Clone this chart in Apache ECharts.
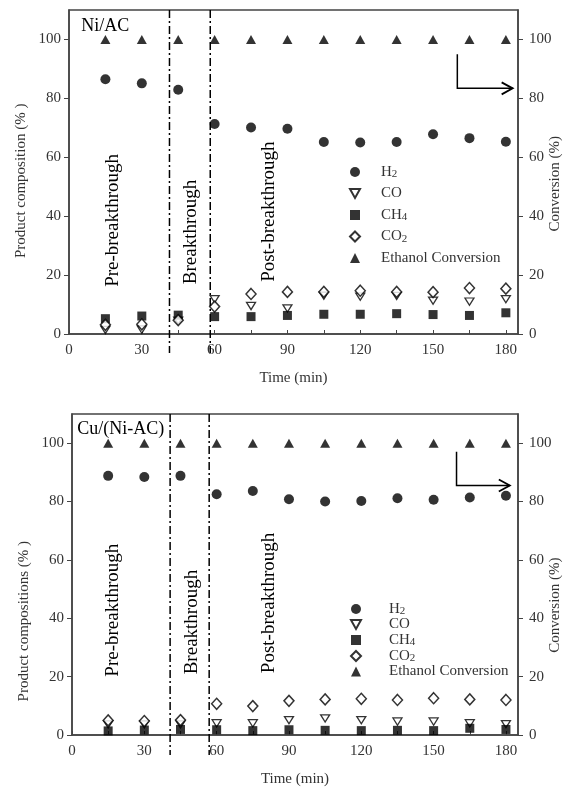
<!DOCTYPE html>
<html>
<head>
<meta charset="utf-8">
<script src="https://cdn.jsdelivr.net/npm/echarts@6/dist/echarts.min.js"></script>
<style>
html, body { margin: 0; padding: 0; background: #fff; }
#chart { width: 573px; height: 790px; }
</style>
</head>
<body>
<div id="chart"></div>
<script>
// sampling times (min)
var times = [15, 30, 45, 60, 75, 90, 105, 120, 135, 150, 165, 180];
var seriesNames = ['H₂', 'CO', 'CH₄', 'CO₂', 'Ethanol Conversion'];

// Ni/AC (%)
var niH2   = [86.5, 85.1, 82.9, 71.3, 70.1, 69.7, 65.2, 65.0, 65.2, 67.8, 66.5, 65.3];
var niCO   = [1.4, 1.5, 4.5, 11.8, 9.5, 8.7, 13.0, 12.7, 12.9, 11.3, 11.0, 11.8];
var niCH4  = [5.2, 6.1, 6.4, 5.9, 5.9, 6.3, 6.7, 6.7, 6.9, 6.6, 6.3, 7.2];
var niCO2  = [3.1, 3.3, 4.7, 9.3, 13.6, 14.3, 14.3, 14.7, 14.3, 14.2, 15.6, 15.4];
var niConv = [100, 100, 100, 100, 100, 100, 100, 100, 100, 100, 100, 100];

// Cu/(Ni-AC) (%)
var cuH2   = [88.8, 88.4, 88.8, 82.5, 83.6, 80.8, 80.0, 80.2, 81.1, 80.6, 81.4, 82.0];
var cuCO   = [3.6, 3.6, 3.6, 4.0, 4.0, 5.1, 5.7, 5.1, 4.6, 4.6, 4.0, 3.7];
var cuCH4  = [1.4, 1.7, 1.9, 1.8, 1.5, 1.8, 1.6, 1.5, 1.6, 1.5, 2.3, 1.9];
var cuCO2  = [5.0, 4.8, 5.1, 10.7, 9.9, 11.7, 12.2, 12.4, 12.0, 12.6, 12.2, 12.0];
var cuConv = [100, 100, 100, 100, 100, 100, 100, 100, 100, 100, 100, 100];

// axis ticks
var xLabelTicks = [0, 30, 60, 90, 120, 150, 180];
var xMinorTicks = [0, 15, 30, 45, 60, 75, 90, 105, 120, 135, 150, 165, 180];
var yTicks = [0, 20, 40, 60, 80, 100];

// annotations
var panelTitles = ['Ni/AC', 'Cu/(Ni-AC)'];
var leftAxisNames = ['Product composition (% )', 'Product compositions (% )'];
var rightAxisName = 'Conversion (%)';
var phaseLabels = ['Pre-breakthrough', 'Breakthrough', 'Post-breakthrough'];
var phaseLinesNi = [41.4, 58.2];
var phaseLinesCu = [40.7, 56.9];

var FONT = '"Liberation Serif", "Times New Roman", serif';
var panels = [
  [niH2, niCO, niCH4, niCO2, niConv],
  [cuH2, cuCO, cuCH4, cuCO2, cuConv]
];

var symbolStyles = [
  { symbol: 'circle', symbolSize: 10, itemStyle: { color: '#000' } },
  { symbol: 'path://M0,0L10,0L5,9Z', symbolSize: [9, 8], itemStyle: { color: '#fff', borderColor: '#000', borderWidth: 1.3 } },
  { symbol: 'rect', symbolSize: 9, itemStyle: { color: '#000' } },
  { symbol: 'diamond', symbolSize: [10, 11], itemStyle: { color: '#fff', borderColor: '#000', borderWidth: 1.5 } },
  { symbol: 'triangle', symbolSize: [10, 9], itemStyle: { color: '#000' } }
];

function pairs(ys) {
  return times.map(function (t, i) { return [t, ys[i]]; });
}

// H₂ -> {m|H}{s|2} so the subscript is drawn as a lowered digit
var subDigits = '₀₁₂₃₄₅₆₇₈₉';
function subFormatter(name) {
  var out = '', buf = '';
  for (var i = 0; i < name.length; i++) {
    var d = subDigits.indexOf(name[i]);
    if (d >= 0) {
      if (buf) { out += '{m|' + buf + '}'; buf = ''; }
      out += '{s|' + d + '}';
    } else {
      buf += name[i];
    }
  }
  if (buf) out += '{m|' + buf + '}';
  return out;
}

var series = [];
panels.forEach(function (panel, gi) {
  panel.forEach(function (vals, k) {
    var st = symbolStyles[k];
    series.push({
      type: 'scatter',
      name: seriesNames[k],
      xAxisIndex: gi,
      yAxisIndex: gi * 2 + (k === 4 ? 1 : 0),
      data: pairs(vals),
      symbol: st.symbol,
      symbolSize: st.symbolSize,
      symbolKeepAspect: true,
      itemStyle: st.itemStyle,
      silent: true
    });
  });
});

var labelStyle = { fontFamily: FONT, fontSize: 15, color: '#333' };

function xAxisOf(gi) {
  return {
    type: 'value', gridIndex: gi, min: 0, max: 185,
    name: 'Time (min)', nameLocation: 'middle', nameGap: 37, nameMoveOverlap: false,
    nameTextStyle: { fontFamily: FONT, fontSize: 15, color: '#333' },
    axisLine: { show: true, lineStyle: { color: '#444', width: 1.5 } },
    axisTick: { show: true, inside: true, length: 4, customValues: xMinorTicks, lineStyle: { color: '#444' } },
    axisLabel: Object.assign({ margin: 9, customValues: xLabelTicks }, labelStyle),
    splitLine: { show: false }
  };
}

function yAxisOf(gi, right) {
  return {
    type: 'value', gridIndex: gi, min: 0, max: 110,
    position: right ? 'right' : 'left',
    axisLine: { show: true, lineStyle: { color: '#444', width: 1.5 } },
    axisTick: { show: true, inside: false, length: 5, customValues: yTicks, lineStyle: { color: '#444' } },
    axisLabel: Object.assign({ margin: right ? 11 : 8, customValues: yTicks }, labelStyle),
    splitLine: { show: false }
  };
}

function legendOf(left, top, textGap, lineHeight, gap) {
  return {
    orient: 'vertical', left: left, top: top,
    data: seriesNames, selectedMode: false,
    itemWidth: 10, itemHeight: 10, itemGap: gap, symbolKeepAspect: true,
    formatter: subFormatter,
    textStyle: {
      fontFamily: FONT, fontSize: 15, color: '#333', lineHeight: lineHeight, padding: [0, 0, 0, textGap],
      rich: {
        m: { fontFamily: FONT, fontSize: 15, color: '#333', lineHeight: lineHeight },
        s: { fontFamily: FONT, fontSize: 11, color: '#333', lineHeight: lineHeight - 5, padding: [5, 0, 0, 0] }
      }
    }
  };
}

var chart = echarts.init(document.getElementById('chart'));
chart.setOption({
  animation: false,
  backgroundColor: '#fff',
  grid: [
    { left: 69, top: 10, width: 449, height: 324, show: true, borderColor: '#444', borderWidth: 1.5, outerBoundsMode: 'none' },
    { left: 72, top: 414, width: 446, height: 321, show: true, borderColor: '#444', borderWidth: 1.5, outerBoundsMode: 'none' }
  ],
  legend: [
    legendOf(344, 159, 16, 16, 5.5),
    legendOf(345, 596, 23, 15, 0)
  ],
  xAxis: [xAxisOf(0), xAxisOf(1)],
  yAxis: [yAxisOf(0, false), yAxisOf(0, true), yAxisOf(1, false), yAxisOf(1, true)],
  series: series
});

// annotations placed through the axes
function px(gi, x, y) {
  return chart.convertToPixel({ seriesIndex: gi * 5 }, [x, y]);
}

var graphics = [];
var phaseAt = [
  { lines: phaseLinesNi, lineBottom: 19, textPos: [[18.3, 16.0], [50.4, 16.9], [82.3, 17.7]], title: [5, 104.4],
    arrow: [160, 95, 83.4, 182.8], leftNameY: 52, rightNameY: 51 },
  { lines: phaseLinesCu, lineBottom: 20, textPos: [[17.2, 20.0], [49.7, 20.8], [81.9, 21.2]], title: [2.2, 104.9],
    arrow: [159.5, 97.1, 85.5, 181.6], leftNameY: 39, rightNameY: 44.5 }
];

phaseAt.forEach(function (cfg, gi) {
  cfg.lines.forEach(function (xv) {
    var top = px(gi, xv, 110);
    var bot = px(gi, xv, 0);
    graphics.push({
      type: 'line', silent: true, z: 10,
      shape: { x1: top[0], y1: top[1], x2: bot[0], y2: bot[1] + cfg.lineBottom },
      style: { stroke: '#000', lineWidth: 1.5, lineDash: [8, 3, 2, 3] }
    });
  });
  cfg.textPos.forEach(function (p, i) {
    var pt = px(gi, p[0], p[1]);
    graphics.push({
      type: 'text', silent: true, z: 10,
      x: pt[0], y: pt[1], rotation: Math.PI / 2,
      style: { text: phaseLabels[i], font: '19px ' + FONT, fill: '#000', align: 'left', verticalAlign: 'middle' }
    });
  });
  var tp = px(gi, cfg.title[0], cfg.title[1]);
  graphics.push({
    type: 'text', silent: true, z: 10,
    x: tp[0], y: tp[1],
    style: { text: panelTitles[gi], font: '18px ' + FONT, fill: '#000', align: 'left', verticalAlign: 'middle' }
  });
  // axis titles
  var ln = px(gi, 0, cfg.leftNameY);
  graphics.push({
    type: 'text', silent: true, z: 10,
    x: ln[0] - 48, y: ln[1], rotation: Math.PI / 2,
    style: { text: leftAxisNames[gi], font: '15px ' + FONT, fill: '#333', align: 'center', verticalAlign: 'middle' }
  });
  var rn = px(gi, 185, cfg.rightNameY);
  graphics.push({
    type: 'text', silent: true, z: 10,
    x: rn[0] + 37, y: rn[1], rotation: Math.PI / 2,
    style: { text: rightAxisName, font: '15px ' + FONT, fill: '#333', align: 'center', verticalAlign: 'middle' }
  });
  var a = cfg.arrow;
  var p1 = px(gi, a[0], a[1]);
  var p2 = px(gi, a[0], a[2]);
  var p3 = px(gi, a[3], a[2]);
  graphics.push({
    type: 'polyline', silent: true, z: 10,
    shape: { points: [p1, p2, p3] },
    style: { stroke: '#000', lineWidth: 1.5, fill: null }
  });
  graphics.push({
    type: 'polyline', silent: true, z: 10,
    shape: { points: [[p3[0] - 11, p3[1] - 6], p3, [p3[0] - 11, p3[1] + 6]] },
    style: { stroke: '#000', lineWidth: 1.8, fill: null }
  });
});

chart.setOption({ graphic: graphics });
</script>
</body>
</html>
